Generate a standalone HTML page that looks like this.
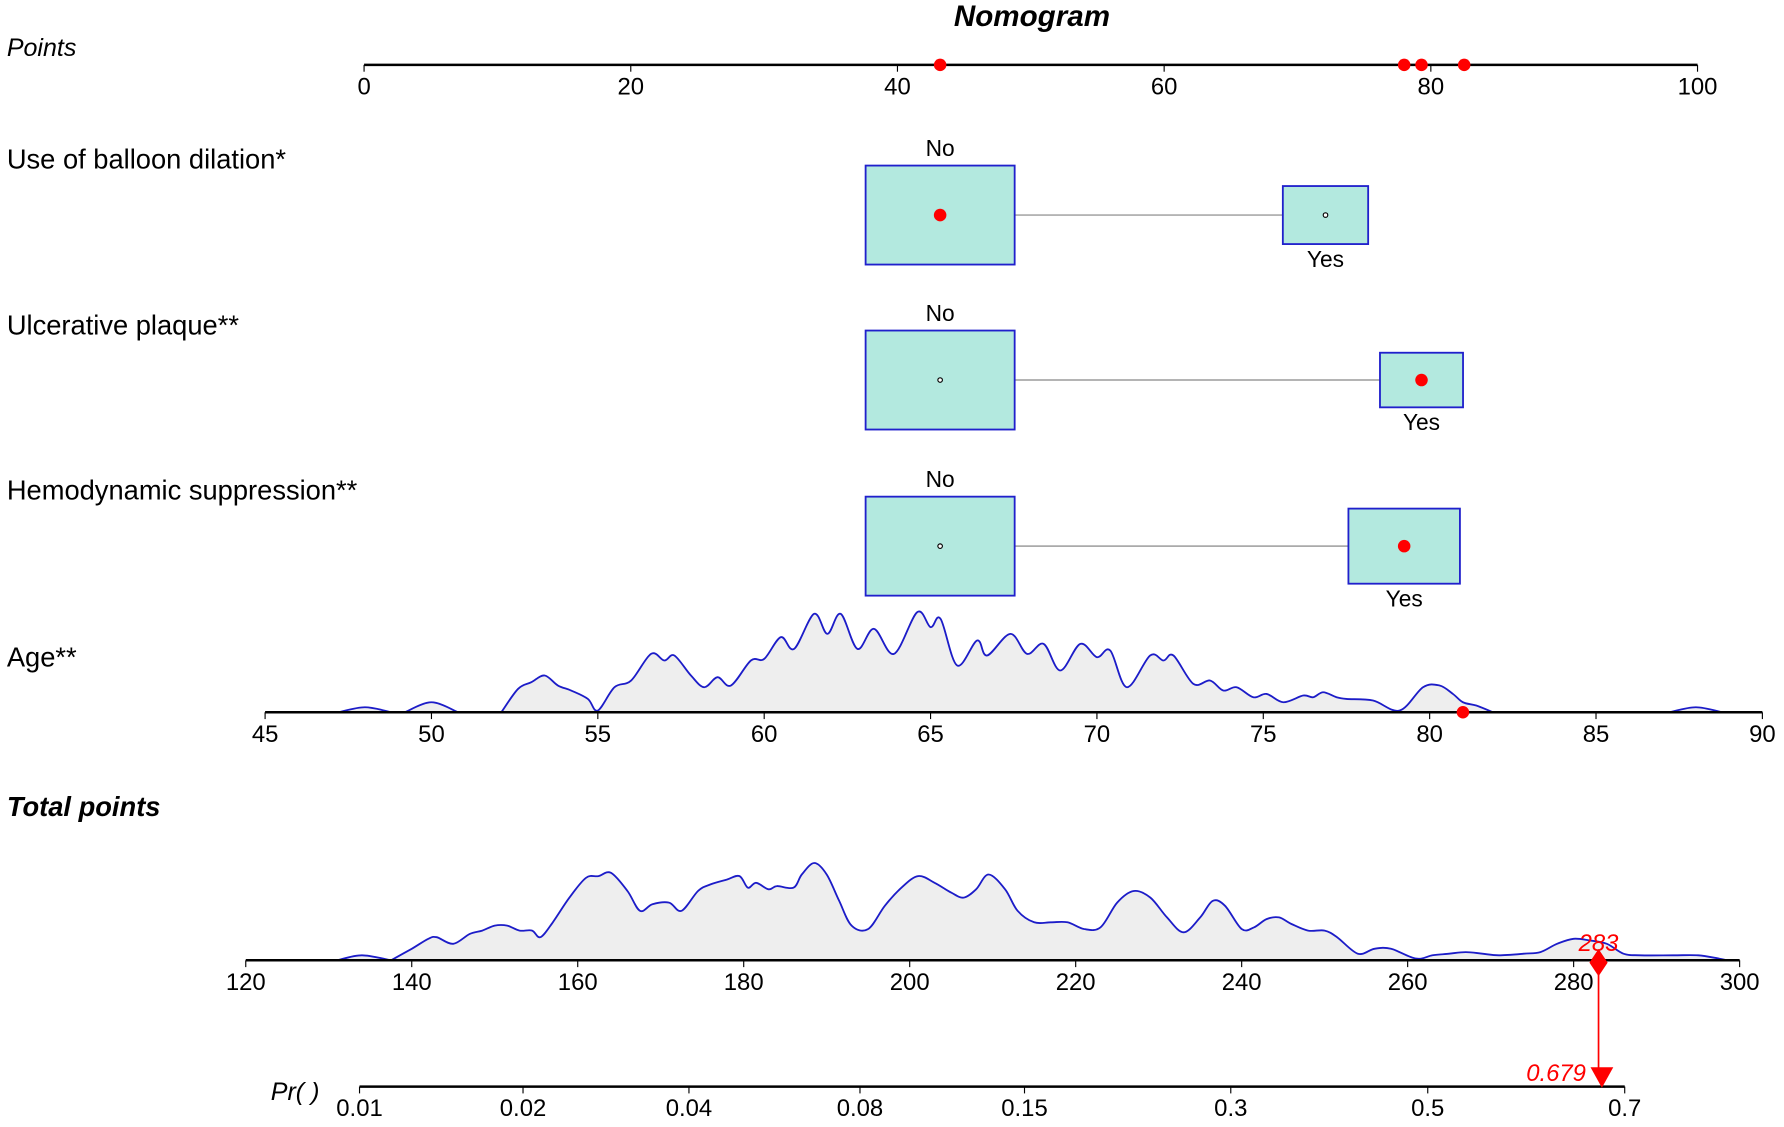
<!DOCTYPE html>
<html><head><meta charset="utf-8"><style>
html,body{margin:0;padding:0;background:#fff}
svg{display:block;font-family:"Liberation Sans",Arial,sans-serif}
</style></head><body>
<svg id="c" width="1784" height="1127" viewBox="0 0 1568 990.5" xmlns="http://www.w3.org/2000/svg">
<text x="907" y="23" text-anchor="middle" font-size="26" font-weight="bold" font-style="italic">Nomogram</text>
<g font-size="24">
<text x="6" y="49" font-style="italic" font-size="22">Points</text>
<text x="6" y="148">Use of balloon dilation*</text>
<text x="6" y="294">Ulcerative plaque**</text>
<text x="6" y="439">Hemodynamic suppression**</text>
<text x="6" y="586">Age**</text>
<text x="6" y="717" font-weight="bold" font-style="italic">Total points</text>
<text x="238" y="967" font-style="italic" font-size="22">Pr( )</text>
</g>
<g id="g"></g>
</svg>
<script>
const pointTicks=[0,20,40,60,80,100];
const pointMarks=[43.2,78,79.3,82.5];
const ageTicks=[45,50,55,60,65,70,75,80,85,90];
const ageVals=[47.2,48,48.8,null,49.2,50,50.8,null,52.1,52.6,53,53.4,53.8,54.2,54.7,55,55.5,56,56.6,57,57.3,57.8,58.2,58.6,59,59.6,60,60.5,60.9,61.5,61.9,62.3,62.8,63.3,63.9,64.6,65,65.3,65.8,66.4,66.7,67.4,67.9,68.4,68.9,69.5,70,70.4,70.9,71.6,72,72.3,72.9,73.4,73.8,74.2,74.7,75.1,75.6,76.2,76.5,76.8,77.2,77.5,78.3,79.1,79.8,80.3,80.7,81,81.4,81.9,null,87.2,88,88.8];
const ageDens=[0,15,0,null,0,30,0,null,0,70,90,110,80,65,40,5,75,95,175,155,170,110,75,105,80,155,160,225,190,295,235,295,190,250,175,300,255,280,140,215,170,235,175,205,125,205,165,185,75,170,155,170,85,95,65,75,45,55,30,50,45,60,45,40,35,5,75,80,55,30,20,0,null,0,15,0];
const ageMark=81;
const totTicks=[120,140,160,180,200,220,240,260,280,300];
const totVals=[131,134,137.5,null,137.5,140,142,143,145,147,148.5,150,151.5,153,154.5,155.5,157,159,161,162.5,164,166,167.5,169,171,172.5,174.5,176,178,179.5,180.5,181.5,183,184,186,187,188.5,190,191.5,193,195,197,199,201,203,205,206.5,208,209.5,211.5,213,215,217,219,221,223,225,227,229,231,233,235,236.5,238,240,241.5,243,244.5,246,248,250,251.5,254,256,258,261,263,265,267,269,271,274,276,278,280,282,284,286,288,292,295,297.5,298.5];
const totDens=[0,15,0,null,0,35,65,70,50,80,90,105,105,90,90,70,115,190,250,255,265,210,150,170,175,150,210,230,245,255,220,235,215,225,220,260,295,260,180,105,95,165,220,255,235,205,190,215,260,215,150,115,115,115,95,100,175,210,190,130,85,130,180,165,95,100,125,130,110,90,90,70,20,35,35,5,15,20,25,20,15,20,25,50,65,60,50,20,15,15,15,5,0];
const totalScore=283;
const prTicks=[0.01,0.02,0.04,0.08,0.15,0.3,0.5,0.7];
const prValue=0.679;
const catNames=['balloon','ulcerative','hemodynamic'];
const catNo=[43.2,43.2,43.2];
const catYes=[72.1,79.3,78];
const catSel=[0,1,1];
const catY=[189,334,480];
const yesW=[75,73,98], yesH=[51,48,66];

const NS='http://www.w3.org/2000/svg';
const G=document.getElementById('g');
function mk(t,a,p){const e=document.createElementNS(NS,t);for(const k in a)e.setAttribute(k,a[k]);(p||G).appendChild(e);return e;}
const xP=v=>320+v/100*1172;
const xA=v=>233+(v-45)/45*1316;
const xT=v=>216+(v-120)/180*1313;
const lg=p=>Math.log(p/(1-p));
const xR=p=>316+(lg(p)-lg(0.01))/(lg(0.7)-lg(0.01))*1112;

function axis(name,y,x0,x1,ticks,fx){
  const a=mk('line',{x1:x0,x2:x1,y1:y,y2:y,stroke:'#000','stroke-width':2.2});
  
  ticks.forEach(t=>{
    const x=fx(t);
    const tk=mk('line',{x1:x,x2:x,y1:y,y2:y+6,stroke:'#000','stroke-width':1});
    
    const tx=mk('text',{x:x,y:y+26,'text-anchor':'middle','font-size':21});
    tx.textContent=t;
    
  });
}
function smooth(s){
  let d='M'+s[0][0].toFixed(1)+','+s[0][1].toFixed(1);
  for(let i=0;i<s.length-1;i++){
    const p0=s[i-1]||s[i],p1=s[i],p2=s[i+1],p3=s[i+2]||s[i+1];
    const c1=[p1[0]+(p2[0]-p0[0])/6,p1[1]+(p2[1]-p0[1])/6];
    const c2=[p2[0]-(p3[0]-p1[0])/6,p2[1]-(p3[1]-p1[1])/6];
    d+='C'+c1[0].toFixed(1)+','+c1[1].toFixed(1)+' '+c2[0].toFixed(1)+','+c2[1].toFixed(1)+' '+p2[0].toFixed(1)+','+p2[1].toFixed(1);
  }
  return d;
}
function dens(name,vals,d,fx,base,hmax){
  let segs=[],cur=[];
  vals.forEach((v,i)=>{if(v===null){if(cur.length)segs.push(cur);cur=[];}else cur.push([fx(v),base-d[i]/300*hmax]);});
  if(cur.length)segs.push(cur);
  segs.forEach(s=>{
    const line=smooth(s);
    const f=mk('path',{d:line+'L'+s[s.length-1][0]+','+base+'L'+s[0][0]+','+base+'Z',fill:'#eeeeee',stroke:'none'});
    
    const l=mk('path',{d:line,fill:'none',stroke:'#1c1cc8','stroke-width':1.6});
    
  });
}
function dot(x,y,name){const c=mk('circle',{cx:x,cy:y,r:5.5,fill:'#ff0000'});}

axis('points',57,320,1492,pointTicks,xP);
pointMarks.forEach(v=>dot(xP(v),57,'points-marker'));

catNames.forEach((n,i)=>{
  const y=catY[i], xn=xP(catNo[i]), xy=xP(catYes[i]);
  const ln=mk('line',{x1:xn+66,x2:xy-yesW[i]/2,y1:y,y2:y,stroke:'#aaa','stroke-width':1.5});
  
  const b1=mk('rect',{x:xn-65.5,y:y-43.5,width:131,height:87,fill:'#b3e9df',stroke:'#2020cc','stroke-width':1.6});
  
  const b2=mk('rect',{x:xy-yesW[i]/2,y:y-yesH[i]/2,width:yesW[i],height:yesH[i],fill:'#b3e9df',stroke:'#2020cc','stroke-width':1.6});
  
  const t1=mk('text',{x:xn,y:y-52,'text-anchor':'middle','font-size':20});t1.textContent='No';
  
  const t2=mk('text',{x:xy,y:y+yesH[i]/2+20,'text-anchor':'middle','font-size':20});t2.textContent='Yes';
  
  [xn,xy].forEach((x,k)=>{
    if(catSel[i]===k) dot(x,y,n+'-selected-marker');
    else{const c=mk('circle',{cx:x,cy:y,r:2,fill:'#fff',stroke:'#000','stroke-width':1});}
  });
});

dens('age',ageVals,ageDens,xA,626,88);
axis('age',626,233,1549,ageTicks,xA);
dot(xA(ageMark),626,'age-marker');

dens('total',totVals,totDens,xT,844,87);
axis('total',844,216,1529,totTicks,xT);

axis('pr',955,316,1428,prTicks,xR);

const xs=xT(totalScore);
const rl=mk('line',{x1:xs,x2:xs,y1:844,y2:940,stroke:'#ff0000','stroke-width':1.5});

const dm=mk('path',{d:`M${xs},834L${xs+8},846L${xs},858L${xs-8},846Z`,fill:'#ff0000'});

const xr=xR(prValue);
const ar=mk('path',{d:`M${xr-10},938L${xr+10},938L${xr},956Z`,fill:'#ff0000'});

const tl=mk('text',{x:xs,y:836,'text-anchor':'middle','font-size':21,'font-style':'italic',fill:'#ff0000'});tl.textContent=totalScore;

const pl=mk('text',{x:xr-14,y:950,'text-anchor':'end','font-size':21,'font-style':'italic',fill:'#ff0000'});pl.textContent=prValue;

</script>
</body></html>
